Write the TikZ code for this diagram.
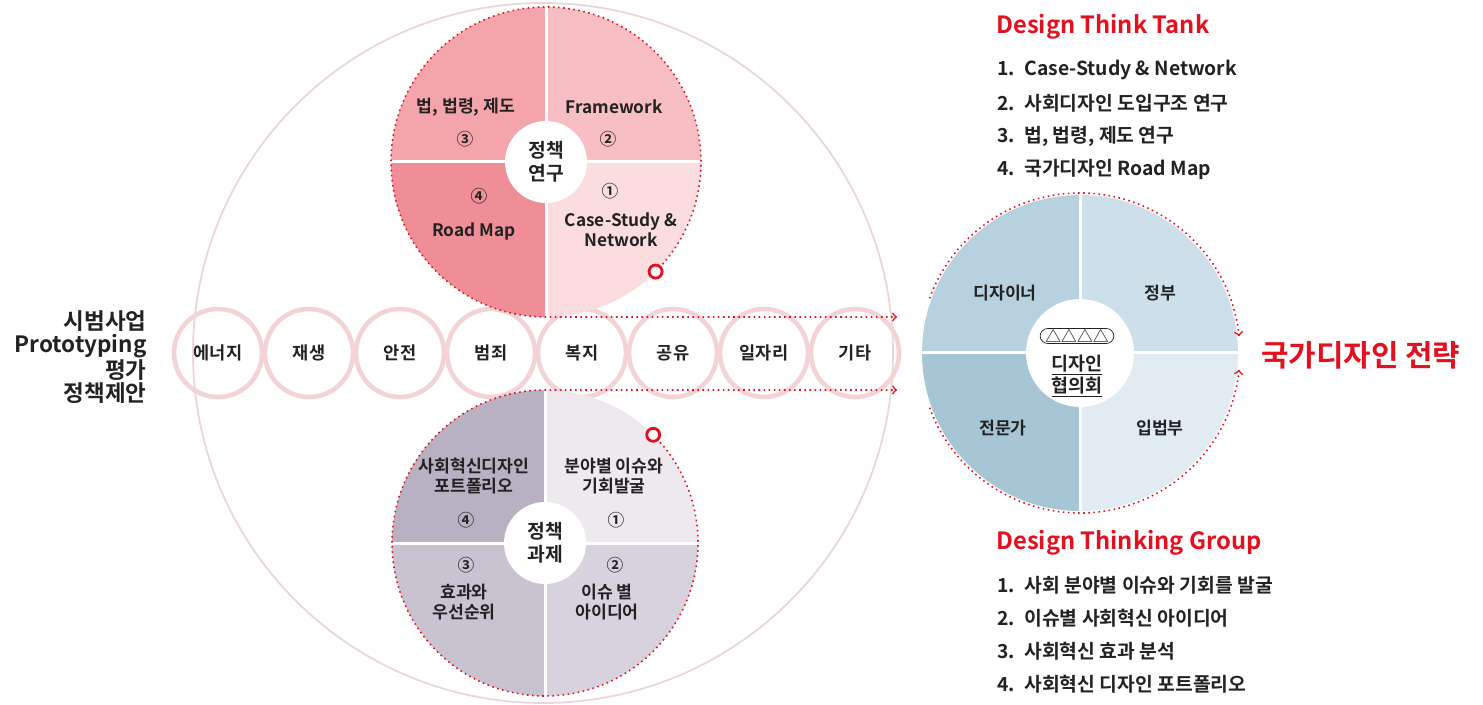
\documentclass[tikz,border=0pt]{standalone}
\usepackage{fontspec}
\setmainfont{Noto Sans CJK KR}[BoldFont={* Bold}]
\usetikzlibrary{arrows}

\definecolor{dred}{HTML}{E3111F}
\definecolor{ink}{HTML}{222222}
\definecolor{beadc}{HTML}{F4D3D6}
\definecolor{rimc}{HTML}{E9D6D8}
% policy research quadrants
\definecolor{tpA}{HTML}{F7BFC3}
\definecolor{tpB}{HTML}{F3A5AB}
\definecolor{tpC}{HTML}{EF8E96}
\definecolor{tpD}{HTML}{FBDDDF}
% policy task quadrants
\definecolor{bpA}{HTML}{EDE9EF}
\definecolor{bpB}{HTML}{B7B1C2}
\definecolor{bpC}{HTML}{C9C3D1}
\definecolor{bpD}{HTML}{D8D2DE}
% council quadrants
\definecolor{rpA}{HTML}{CDE0E9}
\definecolor{rpB}{HTML}{B7D1DE}
\definecolor{rpC}{HTML}{A6C6D5}
\definecolor{rpD}{HTML}{E0ECF2}

\begin{document}
\begin{tikzpicture}[x=0.02cm,y=0.02cm,
	lab/.style={font=\fontsize{9.8}{11.5}\selectfont\bfseries, text=ink, align=center, inner sep=0pt},
	num/.style={font=\fontsize{9.5}{11}\selectfont\bfseries, text=ink, inner sep=0pt},
	mid/.style={circle, fill=white, inner sep=0pt, minimum size=1.64cm, align=center, text=ink,
		font=\fontsize{11}{13}\selectfont\bfseries},
	bead/.style={circle, draw=beadc, line width=2.6pt, minimum size=1.76cm, inner sep=0pt, text=ink,
		font=\fontsize{10}{12}\selectfont\bfseries},
	flow/.style={draw=dred, dotted, line width=0.9pt},
	ring/.style={circle, draw=dred, line width=1.6pt, fill=white, minimum size=0.26cm, inner sep=0pt},
	head/.style={font=\fontsize{13.5}{16}\selectfont\bfseries, text=dred, inner sep=0pt},
	item/.style={font=\fontsize{11}{13}\selectfont\bfseries, text=ink, inner sep=0pt}]

	\useasboundingbox (0,0) rectangle (1483,-705);

	% big circle and the row of fields
	\draw[rimc, line width=1pt] (543,-353) circle[radius=350];
	\foreach \t [count=\i from 0] in {에너지, 재생, 안전, 범죄, 복지, 공유, 일자리, 기타}
		\node[bead] (f\i) at (218+91*\i,-353) {\t};

	% policy research
	\foreach \a/\c in {0/tpA, 90/tpB, 180/tpC, 270/tpD}
		\fill[\c] (546,-162) -- ++(\a:155) arc[start angle=\a, delta angle=90, radius=155] -- cycle;
	\draw[white, line width=0.06cm] (391,-162) -- (701,-162) (546,-7) -- (546,-317);
	\node[mid] (tp) at (546,-162) {정책\\연구};
	\node[lab] (tp3) at (466,-107) {법, 법령, 제도};
	\node[num] (n3) at (465,-139) {③};
	\node[lab] (tp2) at (614,-107) {Framework};
	\node[num] (n2) at (608,-139) {②};
	\node[num] (n4) at (479,-196) {④};
	\node[lab] (tp4) at (474,-231) {Road Map};
	\node[num] (n1) at (610,-191) {①};
	\node[lab] (tp1) at (621,-230) {Case-Study \&\\Network};

	% policy tasks
	\foreach \a/\c in {0/bpA, 90/bpB, 180/bpC, 270/bpD}
		\fill[\c] (545,-543) -- ++(\a:153) arc[start angle=\a, delta angle=90, radius=153] -- cycle;
	\draw[white, line width=0.06cm] (392,-543) -- (698,-543) (545,-390) -- (545,-696);
	\node[mid] (bp) at (545,-543) {정책\\과제};
	\node[lab] (bp4) at (474,-476) {사회혁신디자인\\포트폴리오};
	\node[num] (m4) at (466,-520) {④};
	\node[lab] (bp1) at (614,-476) {분야별 이슈와\\기회발굴};
	\node[num] (m1) at (616,-520) {①};
	\node[num] (m3) at (466,-565) {③};
	\node[lab] (bp3) at (464,-602) {효과와\\우선순위};
	\node[num] (m2) at (615,-565) {②};
	\node[lab] (bp2) at (607,-602) {이슈 별\\아이디어};

	% design council
	\foreach \a/\c in {0/rpA, 90/rpB, 180/rpC, 270/rpD}
		\fill[\c] (1080,-353) -- ++(\a:158) arc[start angle=\a, delta angle=90, radius=158] -- cycle;
	\draw[white, line width=0.06cm] (922,-353) -- (1238,-353) (1080,-195) -- (1080,-511);
	\node[mid, minimum size=2.16cm] (rp) at (1080,-353) {};
	\node[draw=ink, rounded corners=4.5pt, inner xsep=3pt, inner ysep=0.6pt,
		font=\fontsize{9}{10}\selectfont] (tri) at (1077,-336) {△△△△};
	\node[lab, font=\fontsize{10.5}{12.5}\selectfont\bfseries] (cc) at (1077,-376) {\underline{디자인}\\\underline{협의회}};
	\node[lab] (r1) at (1005,-293) {디자이너};
	\node[lab] (r2) at (1160,-293) {정부};
	\node[lab] (r3) at (1003,-428) {전문가};
	\node[lab] (r4) at (1160,-428) {입법부};

	% dotted flows
	\coordinate (tpo) at (655.6,-271.6);
	\coordinate (bpo) at (653.2,-434.8);
	\coordinate (ta) at (897,-317);
	\coordinate (ba) at (897,-390);
	\coordinate (rs1) at (929.6,-298.3);
	\coordinate (rs2) at (929.6,-407.7);
	\draw[flow,->] (tpo) arc[start angle=-45, end angle=270, radius=155] -- (ta);
	\draw[flow,->] (bpo) arc[start angle=45, end angle=-270, radius=153] -- (ba);
	\draw[flow,->] (rs1) arc[start angle=160, end angle=6, radius=160];
	\draw[flow,->] (rs2) arc[start angle=-160, end angle=-6, radius=160];
	\node[ring] (o1) at (tpo) {};
	\node[ring] (o2) at (bpo) {};

	% side texts
	\node[anchor=east, align=right, inner sep=0pt, text=ink,
		font=\fontsize{12.8}{13.3}\selectfont\bfseries] (pg) at (147,-357) {시범사업\\Prototyping\\평가\\정책제안};
	\node[anchor=west, inner sep=0pt, text=dred,
		font=\fontsize{17}{20}\selectfont\bfseries] (goal) at (1261,-355) {국가디자인 전략};

	% lists
	\node[head, anchor=west] (tt) at (996,-27) {Design Think Tank};
	\foreach \t [count=\i] in {Case-Study \& Network, 사회디자인 도입구조 연구, {법, 법령, 제도 연구}, 국가디자인 Road Map}
		\node[item, anchor=west] (tt\i) at (997,-37-33*\i) {\makebox[0.54cm][l]{\i.}\t};
	\node[head, anchor=west] (tg) at (996,-543) {Design Thinking Group};
	\foreach \t [count=\i] in {사회 분야별 이슈와 기회를 발굴, 이슈별 사회혁신 아이디어, 사회혁신 효과 분석, 사회혁신 디자인 포트폴리오}
		\node[item, anchor=west] (tg\i) at (997,-552-33*\i) {\makebox[0.54cm][l]{\i.}\t};
\end{tikzpicture}
\end{document}
